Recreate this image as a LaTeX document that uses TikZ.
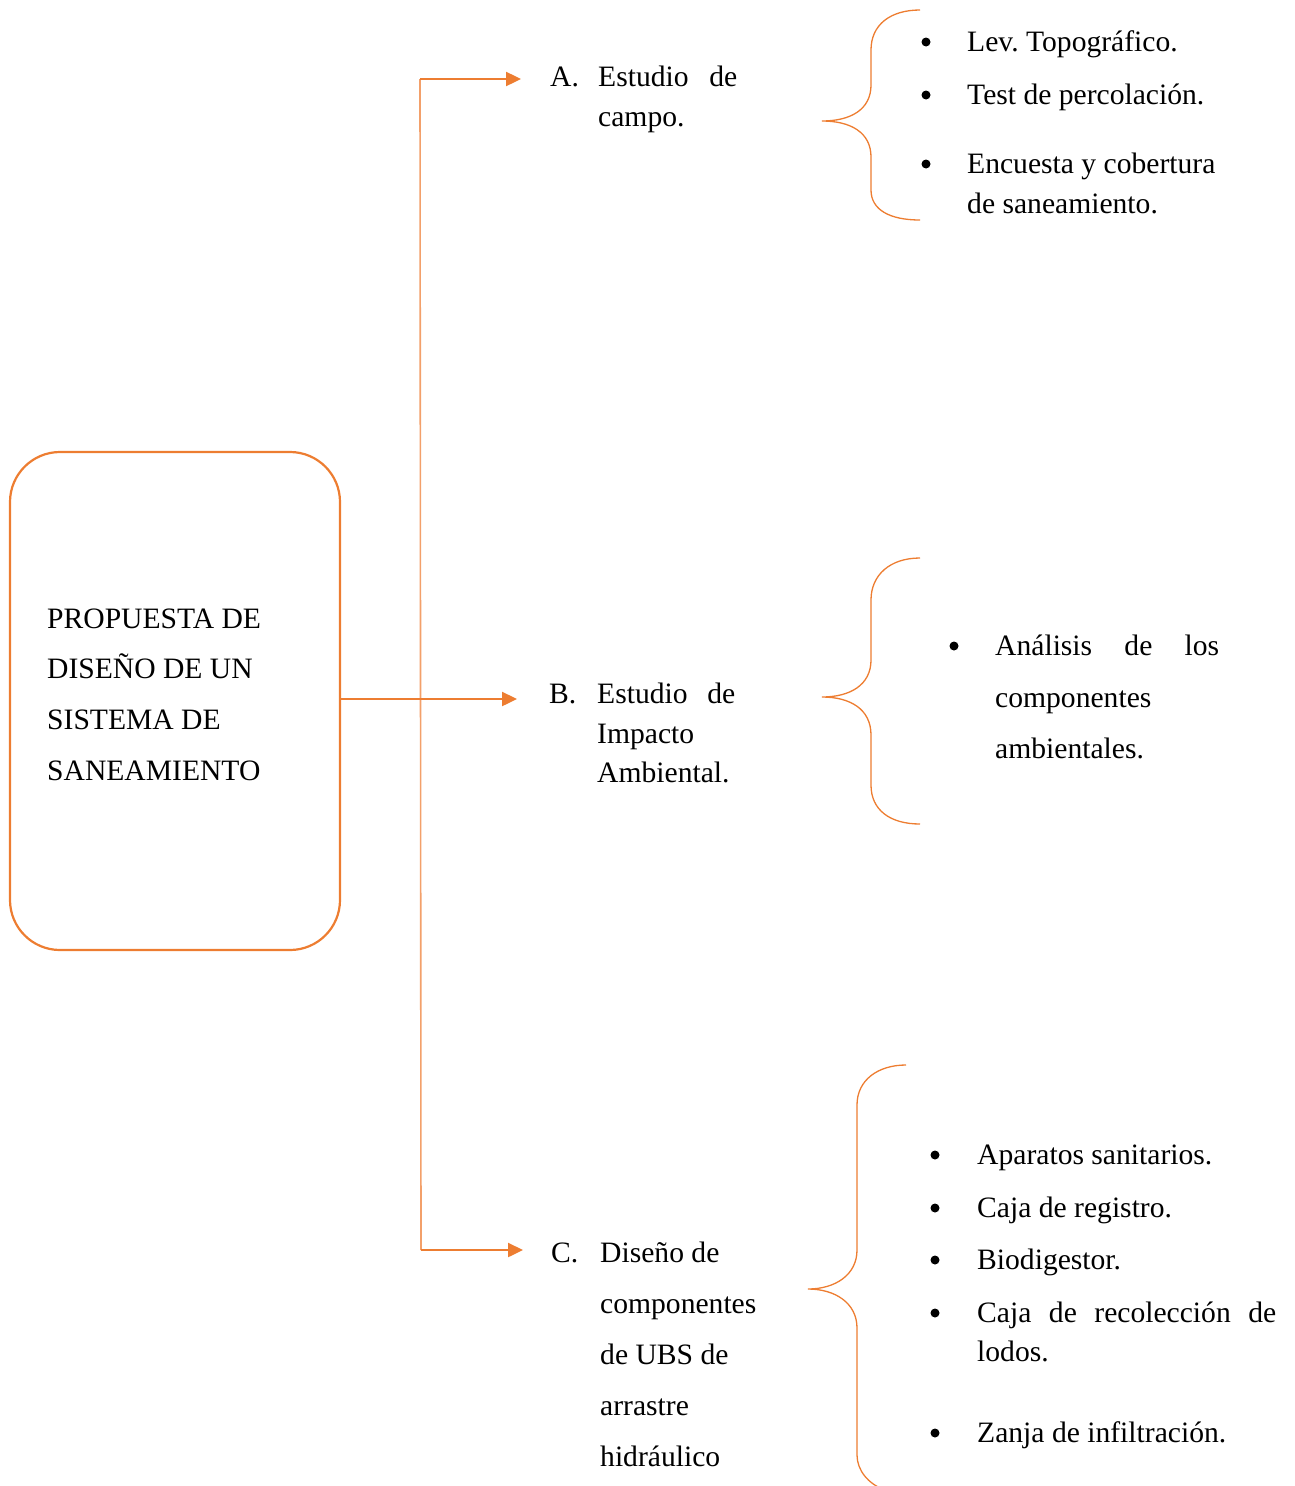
\documentclass[tikz,border=0pt]{standalone}
\usepackage{fontspec}
\setmainfont{Liberation Serif}
\usetikzlibrary{arrows.meta}
\definecolor{orng}{HTML}{ED7D31}
\definecolor{orngl}{HTML}{F3A06A}
\frenchspacing
\begin{document}
\begin{tikzpicture}[x=1pt,y=-1pt,
  txt/.style={font=\fontsize{29.6pt}{35pt}\selectfont\frenchspacing, inner sep=0pt, anchor=base west, text=black},
  arr/.style={draw=orng, line width=2.4pt, -{Triangle[length=15pt,width=14pt]}},
  vline/.style={draw=orngl, line width=1.6pt},
  bracestyle/.style={draw=orng, line width=1.3pt},
  bul/.style={circle, fill=black, inner sep=0pt, minimum size=9pt}]
\useasboundingbox (0,0) rectangle (1294,1486);

% main box
\node[draw=orng, line width=2.2pt, rounded corners=50pt, minimum width=330pt, minimum height=498pt, inner sep=0pt] (box) at (175,701) {};
\node[txt] (p1) at (47,628) {PROPUESTA DE};
\node[txt] (p2) at (47,678) {DISEÑO DE UN};
\node[txt] (p3) at (47,729) {SISTEMA DE};
\node[txt] (p4) at (47,780) {SANEAMIENTO};

% connectors
\coordinate (jA) at (420,79);
\coordinate (jC) at (421,1250);
\coordinate (tA) at (521,79);
\coordinate (tB) at (517,699);
\coordinate (tC) at (523,1250);
\coordinate (sB) at (340,699);
\draw[vline] (jA) -- (jC);
\draw[arr] (jA) -- (tA);
\draw[arr] (sB) -- (tB);
\draw[arr] (jC) -- (tC);

% labels A
\node[txt] (a0) at (550,86) {A.};
\node[txt] (a1) at (598,86) {\makebox[139pt][s]{Estudio\hfill de}};
\node[txt] (a2) at (598,126) {campo.};
% labels B
\node[txt] (b0) at (549,703) {B.};
\node[txt] (b1) at (597,703) {\makebox[138pt][s]{Estudio\hfill de}};
\node[txt] (b2) at (597,743) {Impacto};
\node[txt] (b3) at (597,782) {Ambiental.};
% labels C
\node[txt] (c0) at (551,1262) {C.};
\node[txt] (c1) at (600,1262) {Diseño de};
\node[txt] (c2) at (600,1313) {componentes};
\node[txt] (c3) at (600,1364) {de UBS de};
\node[txt] (c4) at (600,1415) {arrastre};
\node[txt] (c5) at (600,1466) {hidráulico};

% braces
\draw[bracestyle] (920,10) .. controls (890,10) and (871,25) .. (871,50) -- (871,85)
  .. controls (871,110) and (850,121) .. (822,121)
  .. controls (850,121) and (871,132) .. (871,157) -- (871,190)
  .. controls (871,210) and (890,220) .. (920,220);
\draw[bracestyle] (920,558) .. controls (890,558) and (871,575) .. (871,600) -- (871,660)
  .. controls (871,685) and (850,697) .. (822,697)
  .. controls (850,697) and (871,709) .. (871,735) -- (871,785)
  .. controls (871,810) and (890,824) .. (920,824);
\draw[bracestyle] (906,1065) .. controls (878,1065) and (857,1080) .. (857,1105) -- (857,1250)
  .. controls (857,1275) and (835,1289) .. (808,1289)
  .. controls (835,1289) and (857,1303) .. (857,1328) -- (857,1455)
  .. controls (857,1470) and (868,1484) .. (885,1490);

% items A
\node[bul] (ba1) at (926,42) {};
\node[txt] (ia1) at (967,51) {Lev. Topográfico.};
\node[bul] (ba2) at (926,95) {};
\node[txt] (ia2) at (967,104) {Test de percolación.};
\node[bul] (ba3) at (926,164) {};
\node[txt] (ia3) at (967,173) {Encuesta y cobertura};
\node[txt] (ia4) at (967,213) {de saneamiento.};

% items B
\node[bul] (bb1) at (954,646) {};
\node[txt] (ib1) at (995,655) {\makebox[224pt][s]{Análisis\hfill de\hfill los}};
\node[txt] (ib2) at (995,707) {componentes};
\node[txt] (ib3) at (995,758) {ambientales.};

% items C
\node[bul] (bc1) at (935,1155) {};
\node[txt] (ic1) at (977,1164) {Aparatos sanitarios.};
\node[bul] (bc2) at (935,1208) {};
\node[txt] (ic2) at (977,1217) {Caja de registro.};
\node[bul] (bc3) at (935,1260) {};
\node[txt] (ic3) at (977,1269) {Biodigestor.};
\node[bul] (bc4) at (935,1313) {};
\node[txt] (ic4) at (977,1322) {\makebox[299pt][s]{Caja\hfill de\hfill recolección\hfill de}};
\node[txt] (ic5) at (977,1361) {lodos.};
\node[bul] (bc5) at (935,1433) {};
\node[txt] (ic6) at (977,1442) {Zanja de infiltración.};
\end{tikzpicture}
\end{document}
